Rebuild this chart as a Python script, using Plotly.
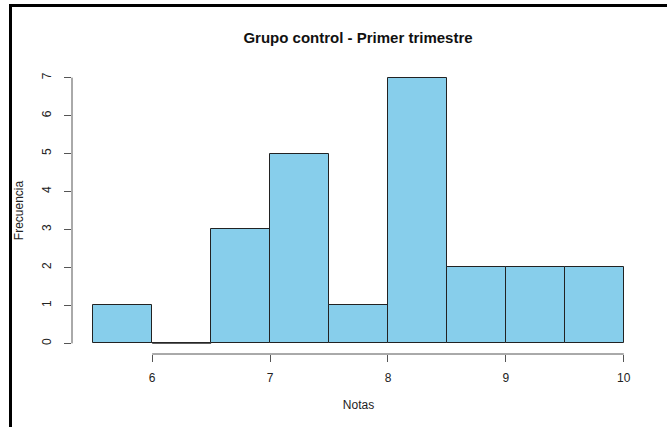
import plotly.graph_objects as go

bin_starts = [5.5, 6.0, 6.5, 7.0, 7.5, 8.0, 8.5, 9.0, 9.5]
counts = [1, 0, 3, 5, 1, 7, 2, 2, 2]
bin_width = 0.5
x_ticks = [6, 7, 8, 9, 10]
y_ticks = [0, 1, 2, 3, 4, 5, 6, 7]

title = "Grupo control - Primer trimestre"
x_title = "Notas"
y_title = "Frecuencia"

centers = [s + bin_width / 2 for s in bin_starts]

fig = go.Figure()
fig.add_trace(go.Bar(
    x=centers, y=counts, width=[bin_width] * len(counts),
    marker=dict(color="#87CEEB", line=dict(color="#222222", width=1)),
    hoverinfo="x+y",
))
# zero-count bins drawn as a flat outline at 0, as R does
for s, c in zip(bin_starts, counts):
    if c == 0:
        fig.add_shape(type="line", xref="x", yref="y", x0=s, x1=s + bin_width,
                      y0=0, y1=0, line=dict(color="#444444", width=1))

xmin = min(bin_starts)
xmax = max(bin_starts) + bin_width
xpad = 0.04 * (xmax - xmin)
ymax = max(counts)
ypad = 0.04 * ymax

axis_col = "#555555"
# R-style axis lines spanning only the tick range
fig.add_shape(type="line", xref="x", yref="paper", x0=min(x_ticks), x1=max(x_ticks),
              y0=0, y1=0, line=dict(color=axis_col, width=1))
fig.add_shape(type="line", xref="paper", yref="y", x0=0, x1=0,
              y0=min(y_ticks), y1=max(y_ticks), line=dict(color=axis_col, width=1))

# outer frame of the screenshot (left and top edges), in paper units of the 573x287 plot area
fl, fr = (9 - 72) / 573, (667 - 72) / 573
ft, fb = (354 - 4) / 287, (354 - 427) / 287
fig.add_shape(type="rect", xref="paper", yref="paper", x0=fl, x1=fl + 3 / 573,
              y0=fb, y1=ft, line=dict(width=0), fillcolor="black")
fig.add_shape(type="rect", xref="paper", yref="paper", x0=fl, x1=fr,
              y0=ft - 3 / 287, y1=ft, line=dict(width=0), fillcolor="black")

fig.update_layout(
    width=667, height=427,
    margin=dict(l=72, r=22, t=67, b=73),
    paper_bgcolor="white", plot_bgcolor="white",
    showlegend=False, bargap=0,
    font=dict(family="Liberation Sans, Arial, sans-serif", size=12, color="#222222"),
    title=dict(text="<b>" + title + "</b>", x=358 / 667, xanchor="center",
               y=1 - 38 / 427, yanchor="middle",
               font=dict(size=15, color="#111111")),
    xaxis=dict(range=[xmin - xpad, xmax + xpad], tickmode="array",
               tickvals=x_ticks, ticktext=[str(v) for v in x_ticks],
               showgrid=False, zeroline=False, showline=False,
               ticks="outside", ticklen=7, tickcolor=axis_col, tickwidth=1,
               ticklabelstandoff=6,
               title=dict(text=x_title, standoff=16, font=dict(size=12)),
               tickfont=dict(size=12)),
    yaxis=dict(range=[-ypad, ymax + ypad], tickmode="array",
               tickvals=y_ticks, ticktext=[str(v) for v in y_ticks],
               showgrid=False, zeroline=False, showline=False,
               ticks="outside", ticklen=7, tickcolor=axis_col, tickwidth=1,
               tickangle=-90, ticklabelstandoff=8,
               title=dict(text=y_title, standoff=14, font=dict(size=12)),
               tickfont=dict(size=12)),
)

fig.write_html("out.html", config={"displayModeBar": False},
               post_script="document.body.style.margin='0';document.body.style.overflow='hidden';")
